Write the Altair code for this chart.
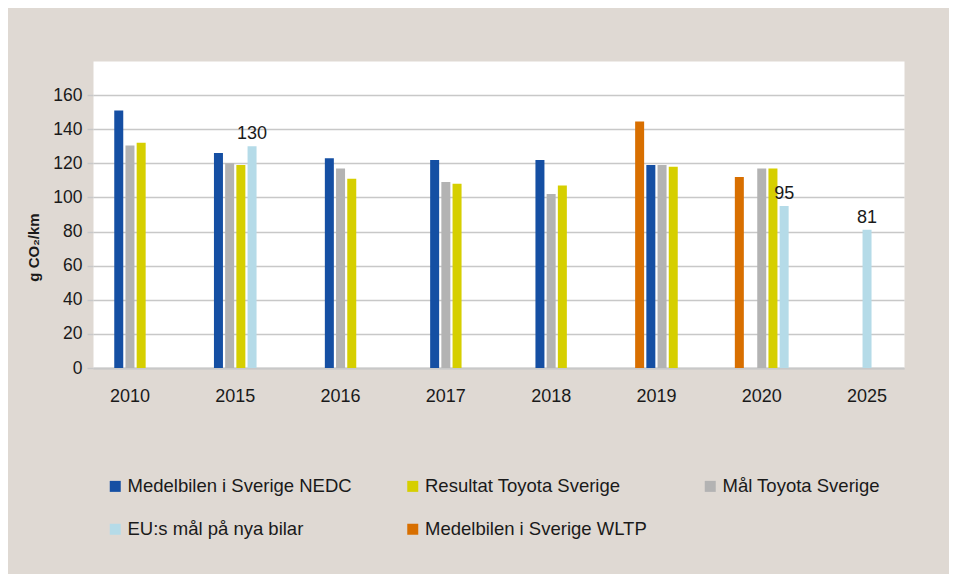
import altair as alt
import pandas as pd

# Categories (x axis)
years = ["2010", "2015", "2016", "2017", "2018", "2019", "2020", "2025"]

# Series (in the order the bars sit inside a cluster)
s_wltp = "Medelbilen i Sverige WLTP"
s_nedc = "Medelbilen i Sverige NEDC"
s_mal = "Mål Toyota Sverige"
s_res = "Resultat Toyota Sverige"
s_eu = "EU:s mål på nya bilar"

wltp = [None, None, None, None, None, 144.5, 112, None]
nedc = [151, 126, 123, 122, 122, 119, 0, None]
mal = [130.5, 120, 117, 109, 102, 119, 117, None]
resultat = [132, 119, 111, 108, 107, 118, 117, None]
eu = [None, 130, None, None, None, None, 95, 81]

cluster_order = [s_wltp, s_nedc, s_mal, s_res, s_eu]
cluster_values = [wltp, nedc, mal, resultat, eu]

legend_order = [s_nedc, s_res, s_mal, s_eu, s_wltp]
legend_colors = ["#154fa3", "#d6cf00", "#b3b3b3", "#b5dbe8", "#d86f00"]

# Build the table: bars present in a year are centred on the category
rows = []
for i, yr in enumerate(years):
    present = [(s, vals[i]) for s, vals in zip(cluster_order, cluster_values) if vals[i] is not None]
    n = len(present)
    for j, (s, v) in enumerate(present):
        rows.append({"year": yr, "series": s, "value": v, "pos": 2 * j + 5 - n})
df = pd.DataFrame(rows)

FONT = "Liberation Sans"
GRID = "#c8c8c8"
TXT = "#1a1a1a"

x_enc = alt.X(
    "year:N",
    sort=years,
    scale=alt.Scale(paddingInner=0.468, paddingOuter=0.085),
    axis=alt.Axis(
        title=None, labelAngle=0, ticks=False, labelFontSize=18, labelPadding=19,
        labelFont=FONT, labelColor=TXT, domainColor=GRID, domainWidth=2,
    ),
)
xoff_enc = alt.XOffset(
    "pos:O",
    scale=alt.Scale(domain=list(range(9)), paddingInner=0, paddingOuter=0.5),
)
y_enc = alt.Y(
    "value:Q",
    scale=alt.Scale(domain=[0, 180], nice=False),
    axis=alt.Axis(
        values=list(range(0, 161, 20)), title="g CO₂/km", titleFont=FONT,
        titleFontSize=15, titleFontWeight="bold", titleColor=TXT,
        titleX=-60, titleY=186, titleAlign="center", titleBaseline="middle",
        labelFont=FONT, labelFontSize=17.5, labelColor=TXT, labelPadding=5,
        tickSize=6, tickColor=GRID, tickWidth=1.5, domain=False,
        grid=True, gridColor=GRID, gridWidth=1.5,
    ),
)

bars = alt.Chart(df).mark_bar(width=9).encode(
    x=x_enc,
    xOffset=xoff_enc,
    y=y_enc,
    color=alt.Color(
        "series:N",
        scale=alt.Scale(domain=legend_order, range=legend_colors),
        legend=alt.Legend(
            title=None, orient="none", legendX=13, legendY=416, columns=3,
            direction="horizontal", symbolType="square", symbolSize=121,
            symbolStrokeWidth=0, labelFont=FONT, labelFontSize=18.5,
            labelColor=TXT, labelLimit=0, labelOffset=3, columnPadding=51.5,
            gridAlign="all", rowPadding=24, padding=0,
        ),
    ),
)

labels = alt.Chart(df).transform_filter(
    alt.datum.series == s_eu
).mark_text(
    dy=-3, baseline="bottom", align="center", fontSize=18, font=FONT, color=TXT
).encode(
    x=x_enc,
    xOffset=xoff_enc,
    y=y_enc,
    text=alt.Text("value:Q", format=".0f"),
)

chart = alt.layer(bars, labels).properties(
    width=811,
    height=307,
    autosize="none",
    padding={"left": 85, "top": 53, "right": 45, "bottom": 206},
    background="#dfd9d3",
).configure_view(fill="white", stroke="transparent")

chart.save("out.html", embed_options={"renderer": "svg", "actions": False})
